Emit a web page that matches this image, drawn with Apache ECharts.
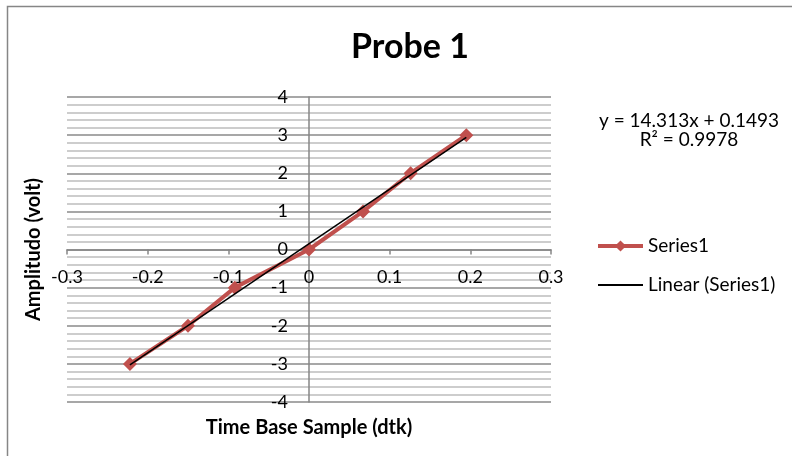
<!DOCTYPE html>
<html>
<head>
<meta charset="utf-8">
<script src="https://cdn.jsdelivr.net/npm/echarts@6/dist/echarts.min.js"></script>
<style>html,body{margin:0;padding:0;background:#fff}#c{width:792px;height:456px}</style>
</head>
<body>
<div id="c"></div>
<script>
var xValues = [-0.222, -0.150, -0.092, 0.000, 0.067, 0.126, 0.195];
var yValues = [-3, -2, -1, 0, 1, 2, 3];
var trendSlope = 14.313;
var trendIntercept = 0.1493;
var trendText = ['y = 14.313x + 0.1493', 'R\u00B2 = 0.9978'];

var FONT = 'Lato, "Open Sans", sans-serif';
var seriesData = xValues.map(function (x, i) { return [x, yValues[i]]; });
var xMin = Math.min.apply(null, xValues), xMax = Math.max.apply(null, xValues);
var trendData = [[xMin, trendSlope * xMin + trendIntercept], [xMax, trendSlope * xMax + trendIntercept]];

var chart = echarts.init(document.getElementById('c'));
chart.setOption({
  animation: false,
  backgroundColor: '#fff',
  title: {
    text: 'Probe 1', left: 405, top: 25, textAlign: 'center',
    textStyle: { fontFamily: FONT, fontSize: 34, fontWeight: 'bold', color: '#000' }
  },
  grid: { left: 67, right: 241, top: 97, bottom: 54, containLabel: false, outerBoundsMode: 'none' },
  xAxis: {
    type: 'value', min: -0.3, max: 0.3, interval: 0.1,
    name: 'Time Base Sample (dtk)', nameLocation: 'middle', nameGap: 16,
    nameTextStyle: { fontFamily: FONT, fontSize: 20, fontWeight: 'bold', color: '#000' },
    axisLine: { onZero: true, lineStyle: { color: '#868686', width: 1.5 } },
    axisTick: { show: true, inside: false, length: 5, lineStyle: { color: '#868686', width: 1.5 } },
    axisLabel: { margin: -134, fontFamily: FONT, fontSize: 18, color: '#000',
      formatter: function (v) { return (Math.round(v * 10) / 10).toString(); } },
    splitLine: { show: false }
  },
  yAxis: {
    type: 'value', min: -4, max: 4, interval: 1,
    name: 'Amplitudo (volt)', nameLocation: 'middle', nameGap: 23, nameRotate: 90,
    nameTextStyle: { fontFamily: FONT, fontSize: 20, fontWeight: 'bold', color: '#000' },
    axisLine: { onZero: true, lineStyle: { color: '#868686', width: 1.5 } },
    axisTick: { show: false },
    axisLabel: { margin: -221, fontFamily: FONT, fontSize: 18, color: '#000' },
    splitLine: { show: true, lineStyle: { color: '#8a8a8a', width: 1.5 } },
    minorTick: { show: false, splitNumber: 5 },
    minorSplitLine: { show: true, lineStyle: { color: '#bdbdbd', width: 1.5 } }
  },
  legend: {
    orient: 'vertical', left: 591, top: 231, itemGap: 19, itemWidth: 45, itemHeight: 14,
    textStyle: { fontFamily: FONT, fontSize: 19, lineHeight: 20, color: '#000' },
    data: [
      { name: 'Series1', lineStyle: { width: 4 } },
      { name: 'Linear (Series1)', itemStyle: { opacity: 0 }, lineStyle: { width: 2 } }
    ]
  },
  series: [
    {
      name: 'Series1', type: 'line', data: seriesData,
      lineStyle: { color: '#C0504D', width: 4 },
      itemStyle: { color: '#C0504D' },
      symbol: 'diamond', symbolSize: 14, z: 2
    },
    {
      name: 'Linear (Series1)', type: 'line', data: trendData,
      lineStyle: { color: '#000', width: 1.5 },
      itemStyle: { color: '#000' },
      symbol: 'none', z: 3
    }
  ],
  graphic: [
    { type: 'rect', shape: { x: 7.5, y: 6.5, width: 800, height: 460 },
      style: { fill: 'none', stroke: '#868686', lineWidth: 1.5 }, z: 100 },
    { type: 'text', x: 689, y: 121, style: { text: trendText[0], fontFamily: FONT, fontSize: 19, fill: '#000', align: 'center', verticalAlign: 'middle' } },
    { type: 'text', x: 689, y: 140, style: { text: trendText[1], fontFamily: FONT, fontSize: 19, fill: '#000', align: 'center', verticalAlign: 'middle' } }
  ]
});
</script>
</body>
</html>
